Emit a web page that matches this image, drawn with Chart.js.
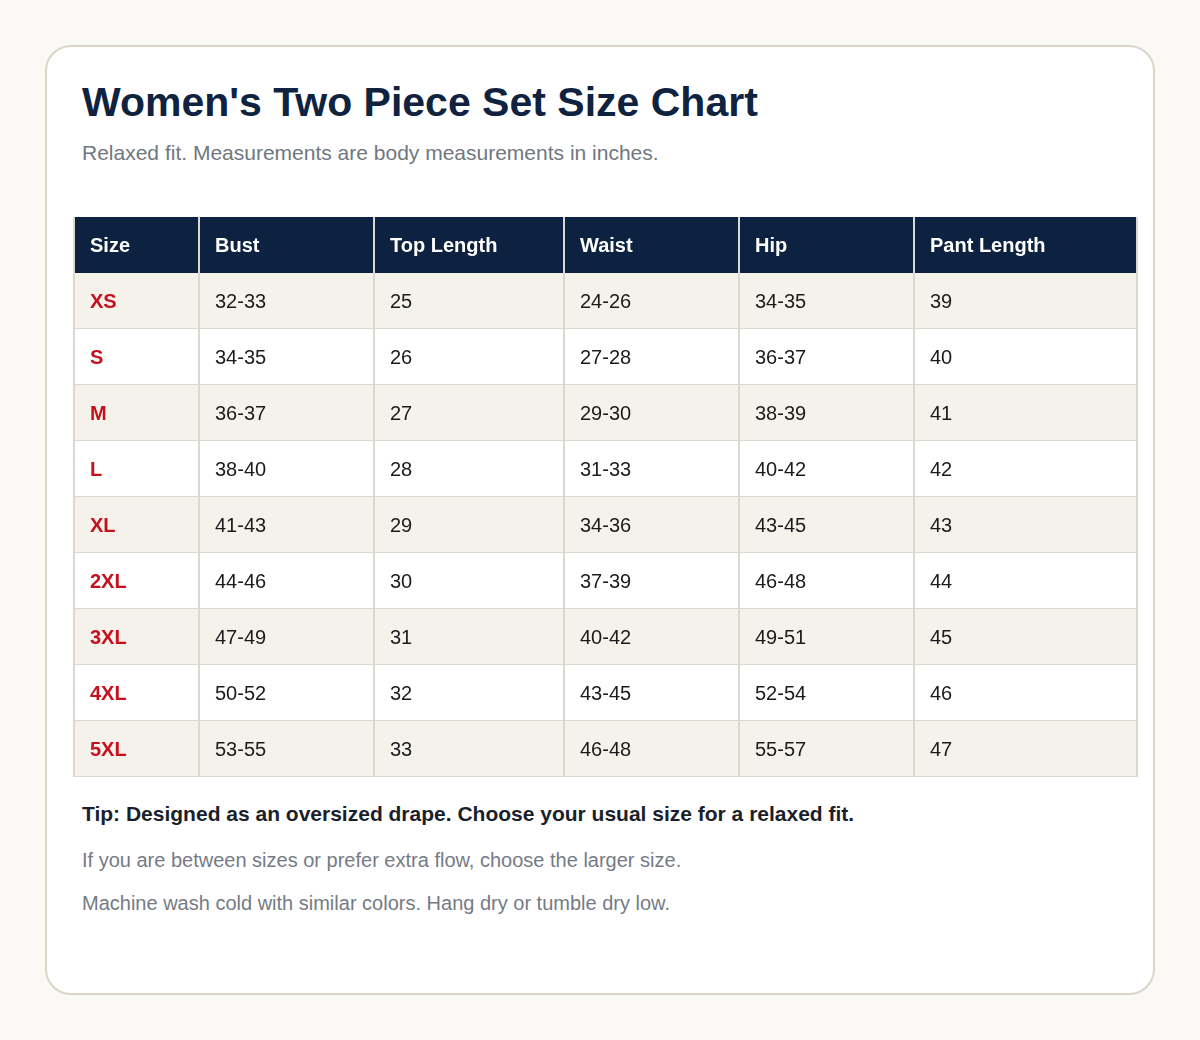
<!DOCTYPE html>
<html>
<head>
<meta charset="utf-8">
<script src="https://cdn.jsdelivr.net/npm/chart.js@4/dist/chart.umd.min.js"></script>
<style>
  body { margin:0; background:#faf9f5; font-family:"Liberation Sans", Arial, sans-serif; }
  .card { position:absolute; left:45px; top:45px; width:1106px; height:946px; background:#fff;
          border:2px solid #ddd6c8; border-radius:26px; box-sizing:content-box; }
  h1 { position:absolute; left:35px; top:32px; margin:0; font-size:41px; color:#0f2340; font-weight:bold; }
  .sub { position:absolute; left:35px; top:94px; font-size:21px; color:#707780; }
  .wrap { position:absolute; left:26px; top:170px; width:1065px; height:560px; }
  .tip { position:absolute; left:35px; top:755px; font-size:21px; font-weight:bold; color:#1a1f2b; }
  .note { position:absolute; left:35px; font-size:20px; color:#757b85; }
</style>
</head>
<body>
<div class="card">
  <h1>Women's Two Piece Set Size Chart</h1>
  <div class="sub">Relaxed fit. Measurements are body measurements in inches.</div>
  <div class="wrap"><canvas id="Chart"></canvas></div>
  <div class="tip">Tip: Designed as an oversized drape. Choose your usual size for a relaxed fit.</div>
  <div class="note" style="top:802px">If you are between sizes or prefer extra flow, choose the larger size.</div>
  <div class="note" style="top:845px">Machine wash cold with similar colors. Hang dry or tumble dry low.</div>
</div>
<script>
const columns = ['Size', 'Bust', 'Top Length', 'Waist', 'Hip', 'Pant Length'];
const sizes = ['XS', 'S', 'M', 'L', 'XL', '2XL', '3XL', '4XL', '5XL'];
const bust = ['32-33', '34-35', '36-37', '38-40', '41-43', '44-46', '47-49', '50-52', '53-55'];
const topLength = ['25', '26', '27', '28', '29', '30', '31', '32', '33'];
const waist = ['24-26', '27-28', '29-30', '31-33', '34-36', '37-39', '40-42', '43-45', '46-48'];
const hip = ['34-35', '36-37', '38-39', '40-42', '43-45', '46-48', '49-51', '52-54', '55-57'];
const pantLength = ['39', '40', '41', '42', '43', '44', '45', '46', '47'];

// layout: column widths in px
const colWidths = [125, 175, 190, 175, 175, 225];
const colEdges = [0];
colWidths.forEach(w => colEdges.push(colEdges[colEdges.length - 1] + w));

const body = [sizes, bust, topLength, waist, hip, pantLength];
const rowLabels = ['header'].concat(sizes);

const tablePlugin = {
  id: 'table',
  afterDraw(chart) {
    const ctx = chart.ctx, xs = chart.scales.x, ys = chart.scales.y;
    const rh = ys.getPixelForValue(1) - ys.getPixelForValue(0);
    const left = xs.getPixelForValue(colEdges[0]), right = xs.getPixelForValue(colEdges[colEdges.length - 1]);
    ctx.save();
    ctx.textBaseline = 'middle';
    rowLabels.forEach((r, i) => {
      const cy = ys.getPixelForValue(i), top = cy - rh / 2;
      ctx.fillStyle = i === 0 ? '#0c2240' : (i % 2 ? '#f5f2ec' : '#ffffff');
      ctx.fillRect(left, top, right - left, rh);
      // row border
      if (i > 0) { ctx.fillStyle = '#dcd8d0'; ctx.fillRect(left, top + rh - 1, right - left, 1); }
      columns.forEach((c, j) => {
        const x0 = xs.getPixelForValue(colEdges[j]);
        let txt, color, weight;
        if (i === 0) { txt = c; color = '#ffffff'; weight = 'bold'; }
        else { txt = body[j][i - 1]; color = j === 0 ? '#c4111d' : '#1b1b1b'; weight = j === 0 ? 'bold' : 'normal'; }
        ctx.font = weight + ' 20px "Liberation Sans", Arial, sans-serif';
        ctx.fillStyle = color;
        ctx.fillText(txt, x0 + 17, cy + 1);
      });
    });
    // vertical lines
    for (let j = 0; j < colEdges.length; j++) {
      const x = xs.getPixelForValue(colEdges[j]);
      ctx.fillStyle = '#dcd8d0';
      ctx.fillRect(Math.min(x, right - 2), ys.getPixelForValue(0) - rh / 2, 2, rh * rowLabels.length);
    }
    ctx.restore();
  }
};

new Chart(document.getElementById('Chart'), {
  type: 'scatter',
  data: { labels: rowLabels, datasets: [] },
  options: {
    responsive: true, maintainAspectRatio: false, animation: false,
    layout: { padding: 0 },
    plugins: { legend: { display: false }, tooltip: { enabled: false } },
    scales: {
      x: { type: 'linear', min: 0, max: colEdges[colEdges.length - 1], display: false },
      y: { type: 'category', labels: rowLabels, offset: true, display: false }
    }
  },
  plugins: [tablePlugin]
});
</script>
</body>
</html>
